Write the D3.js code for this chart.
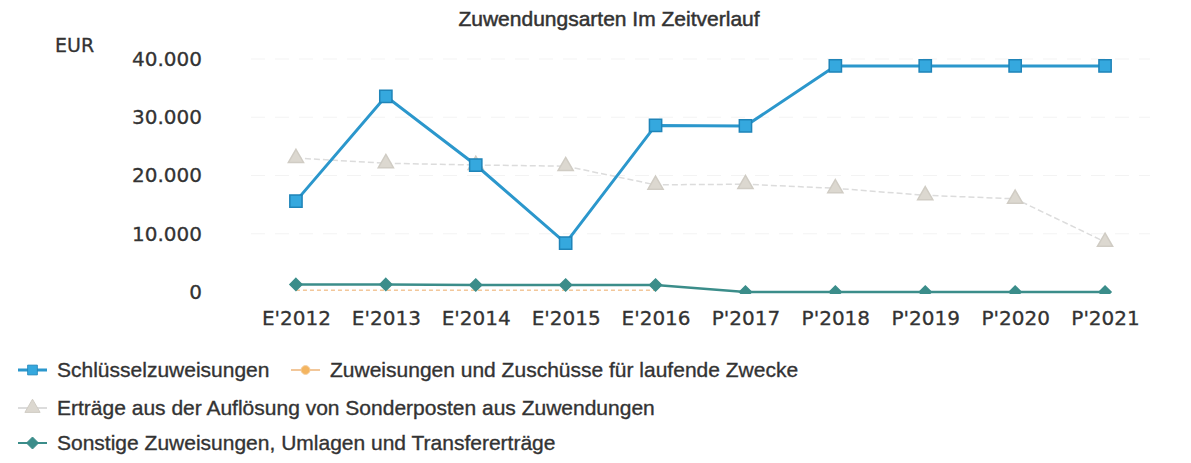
<!DOCTYPE html>
<html>
<head>
<meta charset="utf-8">
<script src="https://cdn.jsdelivr.net/npm/d3@7"></script>
<style>
    body { margin: 0; background: #fff; }
    svg { display: block; }
    .tick text { font-family: "DejaVu Sans", Verdana, sans-serif; fill: #333; }
</style>
</head>
<body>
<div id="chart"></div>
<script>
const categories = ["E'2012", "E'2013", "E'2014", "E'2015", "E'2016", "P'2017", "P'2018", "P'2019", "P'2020", "P'2021"];
const yTicks = [0, 10000, 20000, 30000, 40000];

const schluessel = [15600, 33600, 21800, 8400, 28600, 28500, 38800, 38800, 38800, 38800];
const zuschuesse = [300, 300, 300, 300, 300, null, null, null, null, null];
const ertraege = [23000, 22100, 21800, 21600, 18400, 18500, 17800, 16600, 16000, 8600];
const sonstige = [1300, 1300, 1200, 1200, 1200, 0, 0, 0, 0, 0];

const seriesNames = [
    'Schlüsselzuweisungen',
    'Zuweisungen und Zuschüsse für laufende Zwecke',
    'Erträge aus der Auflösung von Sonderposten aus Zuwendungen',
    'Sonstige Zuweisungen, Umlagen und Transfererträge'
];

const width = 1191,
    height = 463;

const margins = { left: 251, right: 41, top: 59, bottom: 171 };

const svg = d3.select('#chart').append('svg')
    .attr('width', width)
    .attr('height', height);

const x = d3.scalePoint()
    .domain(categories)
    .range([margins.left, width - margins.right])
    .padding(0.5);

const y = d3.scaleLinear()
    .domain([0, 40000])
    .range([height - margins.bottom, margins.top]);

const fmt = d => d === 0 ? '0' : d3.format(',')(d).replace(/,/g, '.');

const sansFont = '"Liberation Sans", Arial, sans-serif';

// title
svg.append('text')
    .attr('x', 609)
    .attr('y', 26)
    .attr('text-anchor', 'middle')
    .style('font-family', sansFont)
    .style('font-size', '21px')
    .style('fill', '#333')
    .style('stroke', '#333')
    .style('stroke-width', 0.5)
    .text('Zuwendungsarten Im Zeitverlauf');

svg.append('text')
    .attr('x', 55)
    .attr('y', 52)
    .style('font-family', '"DejaVu Sans", Verdana, sans-serif')
    .style('font-size', '19px')
    .style('fill', '#333')
    .style('stroke', '#333')
    .style('stroke-width', 0.3)
    .text('EUR');

// grid
svg.append('g')
    .selectAll('line')
    .data(yTicks.slice(1))
    .join('line')
    .attr('x1', margins.left)
    .attr('x2', width - margins.right)
    .attr('y1', d => y(d))
    .attr('y2', d => y(d))
    .attr('stroke', '#f3f3f3')
    .attr('stroke-width', 1)
    .attr('stroke-dasharray', '14,10');

const axisY = d3.axisLeft(y)
    .tickValues(yTicks)
    .tickFormat(fmt)
    .tickSize(0)
    .tickPadding(0);

svg.append('g')
    .attr('transform', 'translate(202, 0)')
    .call(axisY)
    .call(g => g.select('.domain').remove())
    .selectAll('text')
    .style('font-size', '20px')
    .style('stroke', '#333')
    .style('stroke-width', 0.3);

const axisX = d3.axisBottom(x)
    .tickSize(0)
    .tickPadding(0);

svg.append('g')
    .attr('transform', 'translate(0, 309)')
    .call(axisX)
    .call(g => g.select('.domain').remove())
    .selectAll('text')
    .attr('dy', '0.8em')
    .style('font-size', '20px')
    .style('stroke', '#333')
    .style('stroke-width', 0.3);

svg.append('clipPath')
    .attr('id', 'plot-clip')
    .append('rect')
    .attr('x', 0)
    .attr('y', 0)
    .attr('width', width)
    .attr('height', y(0) + 2);

const line = d3.line()
    .defined(d => d != null)
    .x((d, i) => x(categories[i]))
    .y(d => y(d));

const series = [
    { name: seriesNames[0], values: schluessel, color: '#2b97cc', fill: '#35a8de', stroke: '#1f84b8', width: 3, shape: 'square', dash: null, markers: true },
    { name: seriesNames[1], values: zuschuesse, color: '#f2c79a', fill: '#f4b560', stroke: '#f4c890', width: 1.5, shape: 'circle', dash: '4,3', markers: false },
    { name: seriesNames[2], values: ertraege, color: '#dcdcdc', fill: '#dcd8d0', stroke: '#d0ccc4', width: 1.5, shape: 'triangle', dash: '6,3', markers: true },
    { name: seriesNames[3], values: sonstige, color: '#3b8d8a', fill: '#3b8d8a', stroke: '#3b8d8a', width: 2.5, shape: 'diamond', dash: null, markers: true }
];

const symbolFor = s => {
    if (s.shape === 'square') return d3.symbol(d3.symbolSquare, 150)();
    if (s.shape === 'circle') return d3.symbol(d3.symbolCircle, 60)();
    if (s.shape === 'triangle') return d3.symbol(d3.symbolTriangle, 100)();
    return 'M0,-6L6,0L0,6L-6,0Z';
};

const drawOrder = [2, 1, 3, 0];

drawOrder.forEach(k => {
    const s = series[k];
    const g = svg.append('g').attr('clip-path', 'url(#plot-clip)');

    g.append('path')
        .datum(s.values)
        .attr('d', line)
        .attr('fill', 'none')
        .attr('stroke', s.color)
        .attr('stroke-width', s.width)
        .attr('stroke-dasharray', s.dash);

    if (!s.markers) return;

    g.selectAll('path.pt')
        .data(s.values.map((v, i) => ({ v, i })).filter(d => d.v != null))
        .join('path')
        .attr('class', 'pt')
        .attr('transform', d => 'translate(' + x(categories[d.i]) + ', ' + y(d.v) + ')')
        .attr('d', symbolFor(s))
        .attr('fill', s.fill)
        .attr('stroke', s.stroke)
        .attr('stroke-width', 1.5);
});

// legend
const legendItems = [
    { s: series[0], x: 18, y: 370 },
    { s: series[1], x: 291, y: 370 },
    { s: series[2], x: 18, y: 408 },
    { s: series[3], x: 18, y: 443 }
];

const legend = svg.append('g');

legendItems.forEach(item => {
    const g = legend.append('g')
        .attr('transform', 'translate(' + item.x + ', ' + item.y + ')');

    g.append('line')
        .attr('x1', 0)
        .attr('x2', 29)
        .attr('stroke', item.s.color)
        .attr('stroke-width', item.s === series[0] ? 3 : 2);

    g.append('path')
        .attr('transform', 'translate(14.5, 0)' + (item.s.shape === 'square' ? ' scale(0.8)' : ''))
        .attr('d', symbolFor(item.s))
        .attr('fill', item.s.fill)
        .attr('stroke', item.s.stroke);

    g.append('text')
        .attr('x', 39)
        .attr('y', 7)
        .style('font-family', sansFont)
        .style('font-size', '21px')
        .style('fill', '#333')
        .style('stroke', '#333')
        .style('stroke-width', 0.35)
        .text(item.s.name);
});
</script>
</body>
</html>
